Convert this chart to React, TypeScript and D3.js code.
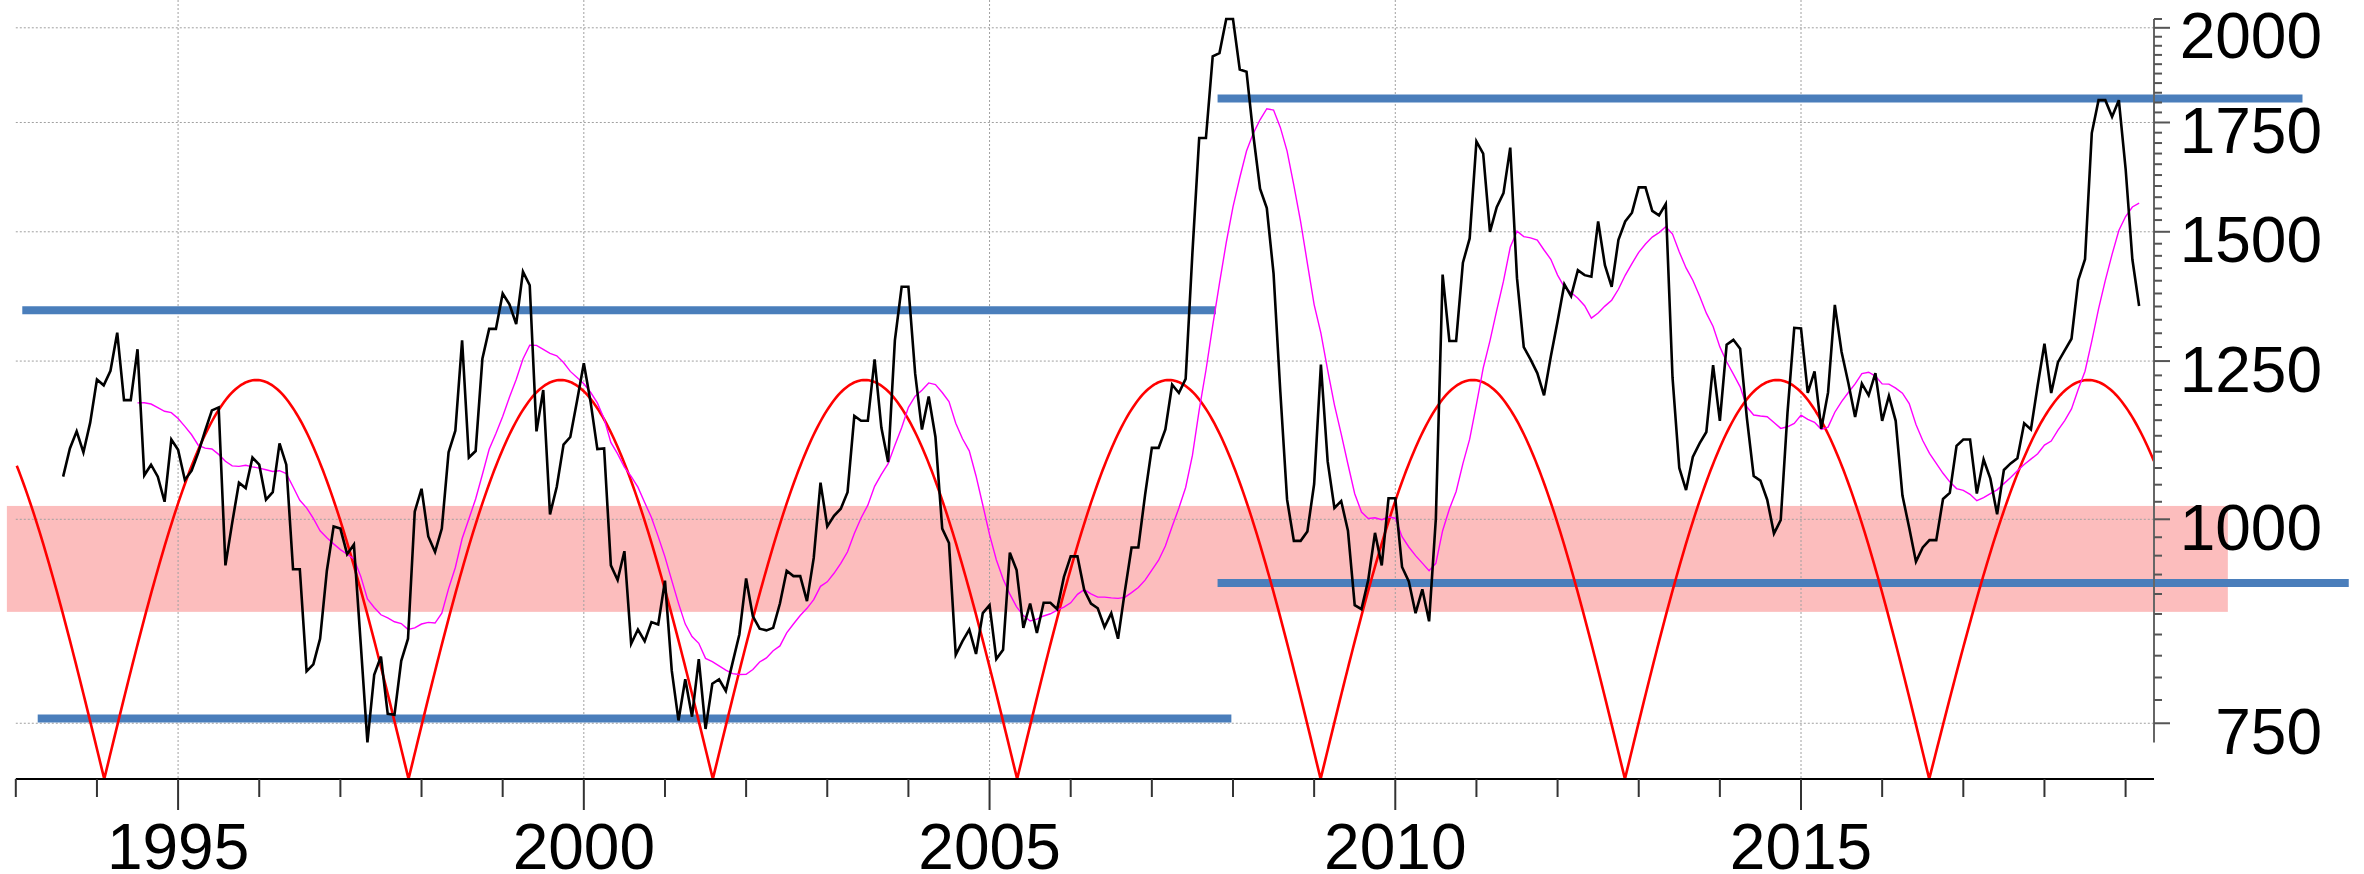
import React from "react";
import * as d3 from "d3";

// ---- data (monthly, starting Aug 1993) ----
const seriesStart = 1993 + 7 / 12;
const monthlyValues = [
  1062, 1105, 1132, 1099, 1146, 1218, 1208, 1233, 1301, 1183, 1183, 1271,
  1064, 1080, 1062, 1025, 1119, 1103, 1057, 1071, 1099, 1133, 1166, 1171,
  937, 995, 1053, 1045, 1091, 1080, 1028, 1039, 1113, 1080, 932, 932,
  807, 815, 845, 930, 990, 987, 952, 965, 840, 730, 803, 824,
  760, 759, 819, 845, 1011, 1044, 976, 955, 987, 1099, 1133, 1287,
  1091, 1101, 1254, 1308, 1308, 1375, 1354, 1317, 1418, 1391, 1132, 1200,
  1007, 1047, 1111, 1123, 1182, 1246, 1180, 1104, 1105, 937, 918, 956,
  839, 856, 842, 865, 862, 917, 808, 753, 798, 757, 821, 744,
  793, 798, 785, 817, 850, 920, 872, 857, 855, 858, 888, 930,
  923, 923, 891, 947, 1053, 990, 1005, 1015, 1039, 1157, 1149, 1149,
  1253, 1138, 1084, 1287, 1388, 1388, 1228, 1135, 1189, 1123, 987, 967,
  826, 842, 856, 827, 876, 886, 821, 832, 954, 931, 858, 888,
  852, 889, 889, 881, 922, 949, 949, 905, 888, 882, 859, 876,
  845, 903, 961, 961, 1035, 1106, 1106, 1135, 1209, 1195, 1219, 1456,
  1712, 1712, 1921, 1930, 2025, 2025, 1886, 1880, 1720, 1594, 1551, 1414,
  1197, 1028, 970, 970, 983, 1051, 1244, 1085, 1016, 1026, 984, 886,
  881, 918, 981, 937, 1030, 1030, 935, 916, 876, 906, 866, 1001,
  1412, 1286, 1286, 1436, 1486, 1704, 1675, 1500, 1553, 1584, 1689, 1405,
  1275, 1253, 1229, 1191, 1258, 1322, 1393, 1370, 1421, 1411, 1408, 1522,
  1431, 1388, 1483, 1522, 1541, 1597, 1597, 1545, 1535, 1560, 1221, 1075,
  1042, 1092, 1113, 1131, 1243, 1149, 1279, 1288, 1272, 1153, 1063, 1056,
  1028, 980, 999, 1162, 1310, 1309, 1195, 1232, 1136, 1196, 1353, 1266,
  1212, 1155, 1211, 1191, 1229, 1149, 1190, 1149, 1034, 988, 942, 961,
  971, 971, 1029, 1038, 1109, 1119, 1119, 1037, 1088, 1059, 1007, 1072,
  1082, 1090, 1145, 1135, 1208, 1281, 1195, 1248, 1269, 1290, 1401, 1443,
  1724, 1806, 1806, 1764, 1806, 1640, 1443, 1351,
];
const movingAverageWindow = 12;

// cycle troughs (years) of the red cycle curve
const cycleTroughs = [1990.34, 1994.09, 1997.84, 2001.59, 2005.34, 2009.08, 2012.83, 2016.58, 2020.5];

// horizontal support / resistance levels
const levelStarts = [1993.08, 2007.81, 1993.27, 2007.81];
const levelEnds = [2007.79, 2021.18, 2007.98, 2021.75];
const levelValues = [1343, 1810, 755, 914];

// shaded zone
const zoneYears = [1992.89, 2020.26];
const zoneValues = [877.6, 1019];

// axes
const xDomain = [1993, 2019.35];
const yDomain = [693.3, 2080];
const yearTicks = d3.range(1993, 2020);
const yearLabels = [1995, 2000, 2005, 2010, 2015];
const valueTicks = d3.range(750, 2026, 25);
const valueLabels = [750, 1000, 1250, 1500, 1750, 2000];

export default function App() {
  const W = 2364, H = 874;
  const x = d3.scaleLinear().domain(xDomain).range([15.8, 2154]);
  const y = d3.scaleLog().domain(yDomain).range([779, 0]);
  const cyc = d3.scaleLinear().domain([0, 1]).range([779, 380]);
  const axisY = 779;
  const axisX = 2154;

  const pts = monthlyValues.map((v, i) => ({ t: seriesStart + i / 12, v }));
  const ma = pts
    .map((p, i) => {
      if (i < movingAverageWindow - 1) return null;
      const s = d3.mean(pts.slice(i - movingAverageWindow + 1, i + 1), (d) => d.v) as number;
      return { t: p.t, v: s };
    })
    .filter(Boolean) as { t: number; v: number }[];

  const line = d3
    .line<{ t: number; v: number }>()
    .x((d) => x(d.t))
    .y((d) => y(d.v));

  // red cycle curve: half-sine arches between consecutive troughs
  const cyclePts: [number, number][] = [];
  const [t0, t1] = xDomain;
  for (let k = 0; k < cycleTroughs.length - 1; k++) {
    const a = cycleTroughs[k], b = cycleTroughs[k + 1];
    const n = 160;
    for (let j = 0; j <= n; j++) {
      const t = a + ((b - a) * j) / n;
      if (t < t0 || t > t1) continue;
      const s = Math.abs(Math.sin((Math.PI * (t - a)) / (b - a)));
      cyclePts.push([x(t), cyc(s)]);
    }
  }
  const cyclePath = d3.line()(cyclePts) as string;

  const font = "'Liberation Sans', Arial, Helvetica, sans-serif";
  const gridColor = "#a0a0a0";

  return (
    <svg
      width={W}
      height={H}
      viewBox={`0 0 ${W} ${H}`}
      style={{ position: "absolute", left: 0, top: 0, display: "block", background: "#fff" }}
    >
      {/* shaded zone */}
      <rect
        x={x(zoneYears[0])}
        width={x(zoneYears[1]) - x(zoneYears[0])}
        y={y(zoneValues[1])}
        height={y(zoneValues[0]) - y(zoneValues[1])}
        fill="#fcbdbd"
      />
      {/* grid */}
      {valueLabels.map((v) => (
        <line
          key={"gh" + v}
          x1={x(1993)}
          x2={axisX}
          y1={y(v)}
          y2={y(v)}
          stroke={gridColor}
          strokeWidth={1}
          strokeDasharray="2,2"
        />
      ))}
      {yearLabels.map((yr) => (
        <line
          key={"gv" + yr}
          x1={x(yr)}
          x2={x(yr)}
          y1={0}
          y2={axisY}
          stroke={gridColor}
          strokeWidth={1}
          strokeDasharray="2,2"
        />
      ))}
      {/* levels */}
      {levelValues.map((v, i) => (
        <line
          key={"lv" + i}
          x1={x(levelStarts[i])}
          x2={x(levelEnds[i])}
          y1={y(v)}
          y2={y(v)}
          stroke="#4a7ebb"
          strokeWidth={8}
        />
      ))}
      {/* cycle */}
      <path d={cyclePath} fill="none" stroke="#ff0000" strokeWidth={2.6} />
      {/* moving average */}
      <path d={line(ma) as string} fill="none" stroke="#ff00ff" strokeWidth={1.4} />
      {/* main series */}
      <path d={line(pts) as string} fill="none" stroke="#000" strokeWidth={2.6} strokeLinejoin="miter" />

      {/* x axis */}
      <line x1={x(1993)} x2={axisX} y1={axisY} y2={axisY} stroke="#000" strokeWidth={2} />
      {yearTicks.map((yr) => (
        <line
          key={"xt" + yr}
          x1={x(yr)}
          x2={x(yr)}
          y1={axisY}
          y2={yearLabels.includes(yr) ? axisY + 31 : axisY + 18}
          stroke="#333"
          strokeWidth={2}
        />
      ))}
      {yearLabels.map((yr) => (
        <text
          key={"xl" + yr}
          x={x(yr)}
          y={869}
          textAnchor="middle"
          fontFamily={font}
          fontSize={64}
          fill="#000"
        >
          {yr}
        </text>
      ))}

      {/* y axis */}
      <line x1={axisX} x2={axisX} y1={y(2025)} y2={y(730)} stroke="#666" strokeWidth={2} />
      {valueTicks.map((v) => (
        <line
          key={"yt" + v}
          x1={axisX}
          x2={valueLabels.includes(v) ? axisX + 16 : axisX + 8}
          y1={y(v)}
          y2={y(v)}
          stroke="#555"
          strokeWidth={2}
        />
      ))}
      {valueLabels.map((v) => (
        <text
          key={"yl" + v}
          x={2322}
          y={y(v) + 30.5}
          textAnchor="end"
          fontFamily={font}
          fontSize={64}
          fill="#000"
        >
          {v}
        </text>
      ))}
    </svg>
  );
}
